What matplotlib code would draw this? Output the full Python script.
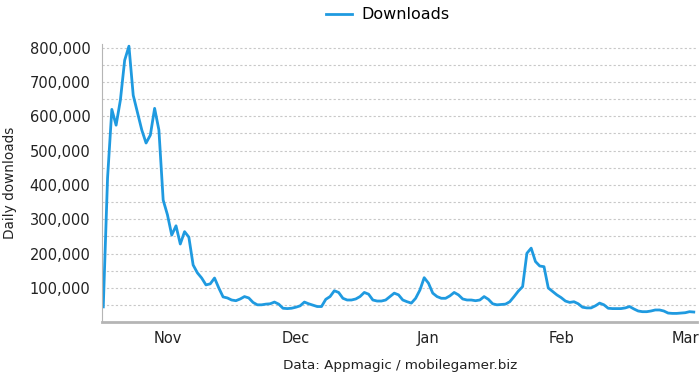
import matplotlib
matplotlib.use("Agg")
import matplotlib.pyplot as plt
import matplotlib.dates as mdates
import matplotlib.ticker as mticker
import numpy as np
import pandas as pd

# daily downloads (Oct 17 -> Mar 4)
start_date = "2019-10-17"
downloads = [
    45000, 420000, 620000, 574000, 647000, 763000, 804000, 661000, 610000, 560000,
    522000, 545000, 623000, 560000, 356000, 313000, 254000, 281000, 228000, 264000,
    248000, 167000, 144000, 129000, 109000, 112000, 129000, 100000, 74000, 71000,
    65000, 63000, 68000, 75000, 71000, 58000, 51000, 51000, 53000, 54000,
    59000, 53000, 41000, 40000, 41000, 44000, 48000, 59000, 54000, 50000,
    46000, 46000, 67000, 75000, 92000, 87000, 70000, 65000, 65000, 68000,
    75000, 87000, 82000, 65000, 62000, 62000, 65000, 75000, 85000, 80000,
    65000, 60000, 56000, 70000, 94000, 130000, 114000, 85000, 75000, 70000,
    70000, 77000, 87000, 80000, 68000, 65000, 65000, 63000, 65000, 75000,
    67000, 54000, 51000, 52000, 53000, 60000, 75000, 91000, 104000, 201000,
    216000, 177000, 164000, 162000, 100000, 90000, 80000, 72000, 62000, 58000,
    60000, 54000, 44000, 42000, 42000, 48000, 56000, 51000, 41000, 40000,
    40000, 40000, 42000, 46000, 39000, 33000, 31000, 31000, 33000, 36000,
    36000, 33000, 27000, 26000, 26000, 27000, 28000, 31000, 30000,
]
series_label = "Downloads"
y_ticks = [100000, 200000, 300000, 400000, 500000, 600000, 700000, 800000]
source = "Data: Appmagic / mobilegamer.biz"

dates = pd.date_range(start_date, periods=len(downloads), freq="D")

plt.rcParams['font.family'] = ['DejaVu Sans']

fig = plt.figure(figsize=(7, 3.77), dpi=100)
ax = fig.add_axes([0.146, 0.145, 0.85, 0.738])

ax.plot(dates, downloads, color="#1f9ae0", lw=2.0, label=series_label,
        solid_joinstyle="round")

ax.set_ylim(0, 810000)
ax.set_xlim(dates[0] - pd.Timedelta(hours=6), dates[-1] + pd.Timedelta(days=0.8))
ax.set_yticks(y_ticks)
ax.set_yticks(np.arange(50000, 810000, 50000), minor=True)
ax.yaxis.set_major_formatter(mticker.FuncFormatter(lambda v, p: "{:,.0f}".format(v)))
ax.grid(True, which="both", axis="y", color="#c8c8c8", ls=(0, (2, 2)), lw=0.8)
ax.set_axisbelow(True)

ax.xaxis.set_major_locator(mdates.MonthLocator())
ax.xaxis.set_major_formatter(mdates.DateFormatter("%b"))

ax.spines['top'].set_visible(False)
ax.spines['right'].set_visible(False)
ax.spines['left'].set_color("#b5b5b5")
ax.spines['left'].set_linewidth(0.8)
ax.spines['bottom'].set_color("#b5b5b5")
ax.spines['bottom'].set_linewidth(2)
ax.tick_params(axis="both", length=0, labelsize=10.5, colors="#222222")
ax.tick_params(axis="y", pad=8.5)
ax.tick_params(axis="x", pad=6)
ax.tick_params(axis="y", which="minor", length=0)

ax.set_ylabel("Daily downloads", fontsize=9.8, color="#222222", labelpad=9)

ax.legend(loc="center", bbox_to_anchor=(0.48, 1.105), frameon=False,
          fontsize=11.5, handlelength=1.6, handletextpad=0.6)

fig.text(400 / 700, 1 - 365 / 377, source, ha="center", va="center",
         fontsize=9.7, color="#222222")

plt.savefig("out.png", dpi=100)
